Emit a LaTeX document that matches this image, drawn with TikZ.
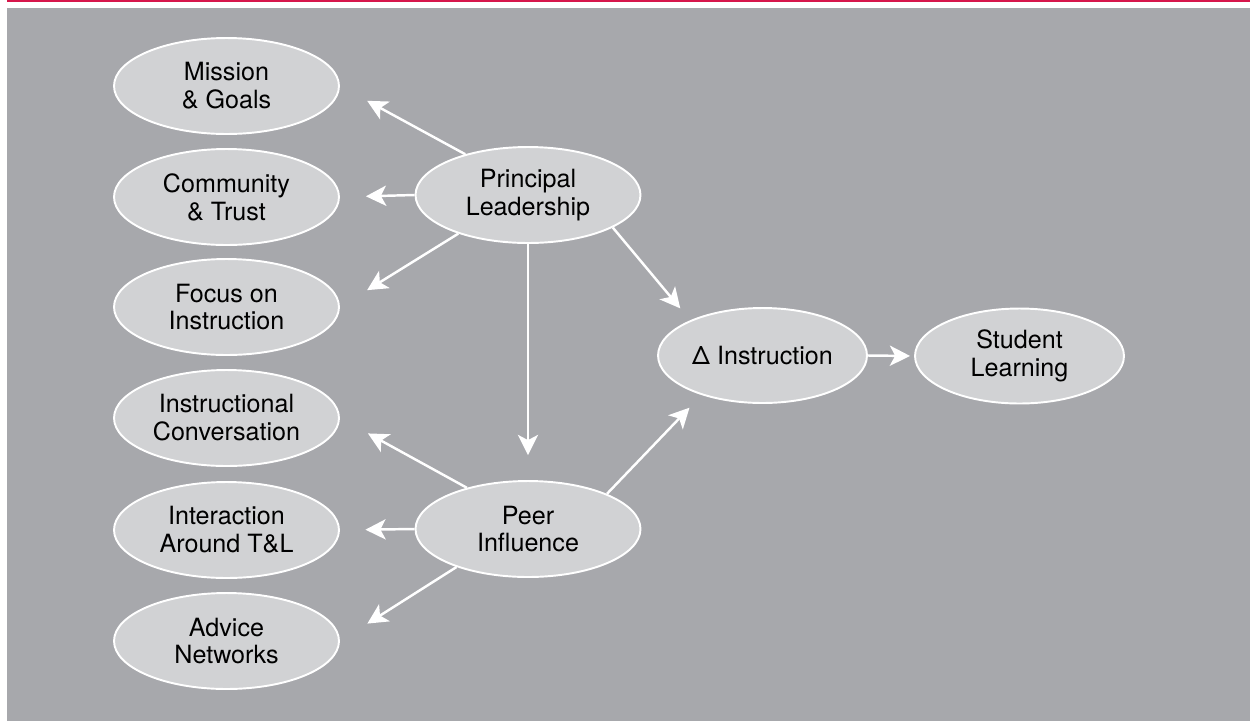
\documentclass[tikz,border=0pt]{standalone}
\usepackage{fontspec}
\setmainfont{TeX Gyre Heros}
\usetikzlibrary{positioning,arrows.meta,shapes}
\definecolor{panel}{RGB}{167,168,172}
\definecolor{bubble}{RGB}{209,210,212}
\definecolor{toprule}{RGB}{214,22,75}
\tikzset{
  factor/.style={ellipse, draw=white, line width=1.1pt, fill=bubble, inner sep=0pt,
    minimum width=4.5cm, minimum height=1.92cm, align=center,
    font=\fontsize{14.3}{15.9}\selectfont},
  outcome/.style={factor, minimum width=4.18cm, minimum height=1.9cm},
  link/.style={draw=white, line width=1.4pt, -{Stealth[length=11.5pt,width=11.5pt,inset=3pt]}}
}

\begin{document}
\begin{tikzpicture}[x=0.02cm,y=-0.02cm]
      \fill[white] (0,0) rectangle (1250,721);
      \useasboundingbox (0,0) rectangle (1250,721);
      \fill[toprule] (7,0) rectangle (1250,1.6);
      \fill[panel] (7,8) rectangle (1250,721);

      \node[factor] (mission)      at (226.5, 86) {Mission\\\& Goals};
      \node[factor] (community)    at (226.5,197) {Community\\\& Trust};
      \node[factor] (focus)        at (226.5,307) {Focus on\\Instruction};
      \node[factor] (conversation) at (226.5,418) {Instructional\\Conversation};
      \node[factor] (interaction)  at (226.5,530) {Interaction\\Around T\&L};
      \node[factor] (advice)       at (226.5,641) {Advice\\Networks};
      \node[factor] (principal)    at (528,195)   {Principal\\Leadership};
      \node[factor] (peer)         at (528,529)   {Peer\\Influence};
      \node[outcome] (change)      at (762.5,355.5) {Δ Instruction};
      \node[outcome] (learning)    at (1019.5,356)  {Student\\Learning};

      \draw[link, shorten >=0.62cm] (principal.147) -- (mission.east);
      \draw[link, shorten >=0.52cm] (principal.west) -- (community.east);
      \draw[link, shorten >=0.64cm] (principal.209) -- (focus.east);
      \draw[link, shorten >=0.64cm] (peer.146) -- (conversation.east);
      \draw[link, shorten >=0.51cm] (peer.west) -- (interaction.east);
      \draw[link, shorten >=0.65cm] (peer.208) -- (advice.east);
      \draw[link, shorten >=0.5cm]  (principal.south) -- (peer.north);
      \draw[link, shorten >=0.31cm] (principal.-21) -- (change.154);
      \draw[link, shorten >=0.35cm] (peer.24) -- (change.213);
      \draw[link, shorten >=0.08cm] (change.east) -- (learning.west);
\end{tikzpicture}
\end{document}
